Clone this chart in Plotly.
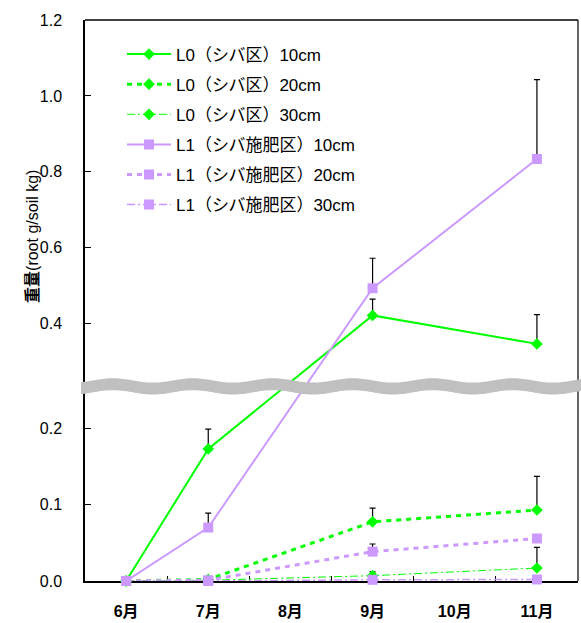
import math
import plotly.graph_objects as go

months = ["6月", "7月", "8月", "9月", "10月", "11月"]

L0_10 = [0.0, 0.173, None, 0.422, None, 0.347]
L0_10_err = [0.0, 0.026, None, 0.043, None, 0.077]
L0_20 = [0.0, 0.002, None, 0.0775, None, 0.093]
L0_20_err = [0.0, 0.0, None, 0.018, None, 0.044]
L0_30 = [0.0, 0.001, None, 0.007, None, 0.017]
L0_30_err = [0.0, 0.0, None, 0.005, None, 0.027]
L1_10 = [0.0, 0.070, None, 0.4935, None, 0.834]
L1_10_err = [0.0, 0.019, None, 0.079, None, 0.209]
L1_20 = [0.0, 0.001, None, 0.0385, None, 0.0557]
L1_20_err = [0.0, 0.0, None, 0.010, None, 0.003]
L1_30 = [0.0, 0.0, None, 0.0016, None, 0.002]
L1_30_err = [0.0, 0.0, None, 0.001, None, 0.001]

lower_ticks = [0.0, 0.1, 0.2]
upper_ticks = [0.4, 0.6, 0.8, 1.0, 1.2]
tick_text = ["0.0", "0.1", "0.2", "0.4", "0.6", "0.8", "1.0", "1.2"]

# broken axis: lower segment linear 0..~0.25, upper segment 0.4..1.2 compressed
U0 = 0.33698
SLOPE = 0.4974


def to_axis(v):
    if v is None:
        return None
    return v if v < 0.3 else U0 + (v - 0.4) * SLOPE


def conv(vals):
    return [to_axis(v) for v in vals]


def conv_err(vals, errs):
    out = []
    for v, e in zip(vals, errs):
        if v is None:
            out.append(None)
        else:
            out.append(to_axis(v + e) - to_axis(v))
    return out


GREEN = "#00FF00"
LAV = "#CC99FF"
FONT = "Liberation Sans, Noto Sans CJK JP, sans-serif"

series = [
    ("L0（シバ区）10cm", L0_10, L0_10_err, GREEN, "diamond", 9, dict(width=2, dash="solid")),
    ("L0（シバ区）20cm", L0_20, L0_20_err, GREEN, "diamond", 9, dict(width=3, dash="5px,5px")),
    ("L0（シバ区）30cm", L0_30, L0_30_err, GREEN, "diamond", 9, dict(width=1, dash="8px,3px,2px,3px")),
    ("L1（シバ施肥区）10cm", L1_10, L1_10_err, LAV, "square", 10, dict(width=2, dash="solid")),
    ("L1（シバ施肥区）20cm", L1_20, L1_20_err, LAV, "square", 10, dict(width=3, dash="5px,5px")),
    ("L1（シバ施肥区）30cm", L1_30, L1_30_err, LAV, "square", 10, dict(width=1.5, dash="8px,3px,2px,3px")),
]

fig = go.Figure()
for i, (name, vals, errs, col, sym, size, line) in enumerate(series):
    fig.add_trace(go.Scatter(
        x=months, y=conv(vals), name=name, mode="lines+markers",
        connectgaps=True, legendgroup=f"g{i}", cliponaxis=False,
        line=dict(color=col, **line),
        marker=dict(symbol=sym, size=size, color=col),
        error_y=dict(type="data", array=conv_err(vals, errs),
                     arrayminus=[0] * len(vals), symmetric=False,
                     color="#000000", thickness=1.2, width=3),
    ))

# plot area geometry in px (for the break band)
L, R, T, B = 85, 578, 20, 585
W, H = R - L, B - T


def px_to_paper(px, py):
    return (px - L) / W, (B - py) / H


pts_top, pts_bot = [], []
px = 81.0
while px <= 582.0:
    yc = 389 - 2.2 * math.cos(2 * math.pi * (px - 113) / 80)
    pts_top.append(px_to_paper(px, yc - 6))
    pts_bot.append(px_to_paper(px, yc + 6))
    px += 2.0
path = "M " + " L ".join(f"{x:.5f},{y:.5f}" for x, y in pts_top)
path += " L " + " L ".join(f"{x:.5f},{y:.5f}" for x, y in reversed(pts_bot)) + " Z"

fig.add_shape(type="path", xref="paper", yref="paper", path=path,
              fillcolor="#C0C0C0", line=dict(width=0), layer="above")
# right frame border
fig.add_shape(type="line", xref="paper", yref="paper", x0=1, x1=1, y0=0, y1=1,
              line=dict(color="#666666", width=2), layer="below")

fig.update_layout(
    width=581, height=623,
    margin=dict(l=L, r=581 - R, t=T, b=623 - B),
    paper_bgcolor="white", plot_bgcolor="white",
    font=dict(family=FONT, size=16, color="#000000"),
    showlegend=True,
    legend=dict(x=(122 - L) / W, y=0.9705, xanchor="left", yanchor="top",
                bgcolor="rgba(0,0,0,0)", font=dict(family=FONT, size=17),
                tracegroupgap=5, itemwidth=44),
    xaxis=dict(type="category", categoryorder="array", categoryarray=months,
               range=[-0.5, 5.5], showline=True, linecolor="#000000", linewidth=1.5,
               mirror=False, ticks="inside", tickson="boundaries", ticklen=5,
               tickcolor="#000000", showgrid=False, zeroline=False,
               layer="below traces",
               tickfont=dict(family=FONT, size=16, weight="bold"),
               ticklabelstandoff=15),
    yaxis=dict(range=[0, to_axis(1.2)], showline=True, linecolor="#000000", linewidth=1.5,
               tickvals=[to_axis(v) for v in lower_ticks + upper_ticks], ticktext=tick_text,
               ticks="inside", ticklen=6, tickcolor="#000000", showgrid=False,
               zeroline=False, layer="below traces", tickfont=dict(family=FONT, size=16),
               ticklabelstandoff=18),
)
# top frame border
fig.add_shape(type="line", xref="paper", yref="paper", x0=0, x1=1, y0=1, y1=1,
              line=dict(color="#000000", width=1.5), layer="below")

fig.add_annotation(text="<b>重量</b>(root g/soil kg)", xref="paper", yref="paper",
                   x=(22 - L) / W, y=(B - 238) / H, textangle=-90, showarrow=False,
                   font=dict(family=FONT, size=16, color="#000000"))

fig.write_html("out.html")
